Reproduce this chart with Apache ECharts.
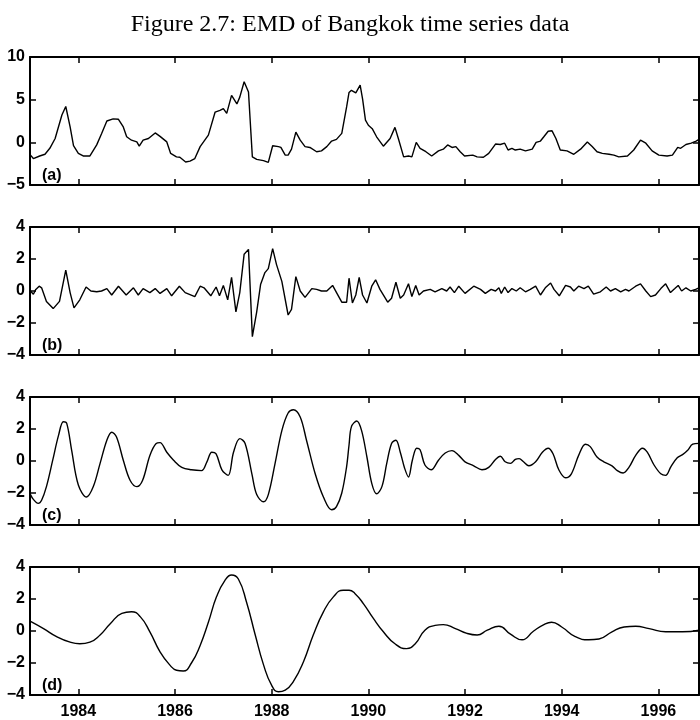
<!DOCTYPE html>
<html>
<head>
<meta charset="utf-8">
<script src="https://cdn.jsdelivr.net/npm/echarts@6/dist/echarts.min.js"></script>
<style>
html,body{margin:0;padding:0;background:#fff;}
#chart{width:700px;height:720px;}
</style>
</head>
<body>
<div id="chart"></div>
<script>
// ---- Data: [year, value] ----
const titleText = "Figure 2.7: EMD of Bangkok time series data";
const panelLabels = ["(a)", "(b)", "(c)", "(d)"];
const xTickYears = [1984, 1986, 1988, 1990, 1992, 1994, 1996];
const xRange = [1983, 1996.84];
const yRangeA = [-5, 10, 5];
const yRangeBCD = [-4, 4, 2];

const seriesA = [[1983.01,-1.5],[1983.07,-1.9],[1983.2,-1.6],[1983.31,-1.4],[1983.41,-0.7],[1983.52,0.45],[1983.66,3.2],[1983.74,4.2],[1983.83,1.8],[1983.9,-0.4],[1984.0,-1.3],[1984.1,-1.6],[1984.24,-1.6],[1984.38,-0.3],[1984.48,1.0],[1984.59,2.5],[1984.72,2.75],[1984.83,2.7],[1984.93,1.8],[1985.0,0.65],[1985.1,0.25],[1985.21,0.05],[1985.26,-0.45],[1985.34,0.25],[1985.45,0.45],[1985.59,1.1],[1985.69,0.7],[1985.83,0.05],[1985.91,-1.3],[1986.03,-1.7],[1986.1,-1.75],[1986.22,-2.3],[1986.31,-2.2],[1986.41,-1.9],[1986.52,-0.5],[1986.59,0.05],[1986.69,0.85],[1986.83,3.55],[1986.93,3.75],[1987.0,3.95],[1987.07,3.4],[1987.17,5.5],[1987.28,4.5],[1987.34,5.3],[1987.43,7.1],[1987.52,5.9],[1987.6,-1.7],[1987.69,-2.0],[1987.83,-2.15],[1987.93,-2.35],[1988.02,-0.4],[1988.14,-0.5],[1988.19,-0.6],[1988.28,-1.5],[1988.34,-1.5],[1988.41,-0.8],[1988.5,1.2],[1988.59,0.25],[1988.69,-0.5],[1988.79,-0.6],[1988.93,-1.1],[1989.03,-1.0],[1989.14,-0.5],[1989.24,0.15],[1989.34,0.35],[1989.45,1.05],[1989.55,4.15],[1989.6,5.85],[1989.65,6.1],[1989.74,5.8],[1989.83,6.7],[1989.88,5.1],[1989.94,2.6],[1990.0,2.0],[1990.08,1.6],[1990.17,0.65],[1990.31,-0.45],[1990.45,0.45],[1990.55,1.75],[1990.62,0.45],[1990.73,-1.7],[1990.83,-1.6],[1990.9,-1.7],[1990.99,0.0],[1991.07,-0.7],[1991.19,-1.1],[1991.31,-1.6],[1991.45,-1.0],[1991.55,-0.8],[1991.64,-0.3],[1991.73,-0.6],[1991.81,-0.5],[1991.9,-1.1],[1991.99,-1.6],[1992.16,-1.5],[1992.25,-1.7],[1992.38,-1.75],[1992.49,-1.3],[1992.63,-0.2],[1992.73,-0.25],[1992.82,-0.1],[1992.89,-0.9],[1992.97,-0.7],[1993.04,-0.9],[1993.14,-0.8],[1993.25,-1.0],[1993.39,-0.8],[1993.47,0.0],[1993.56,0.15],[1993.63,0.65],[1993.72,1.3],[1993.8,1.35],[1993.88,0.45],[1993.97,-0.9],[1994.11,-1.0],[1994.25,-1.4],[1994.39,-0.8],[1994.53,0.05],[1994.63,-0.5],[1994.73,-1.1],[1994.84,-1.3],[1994.98,-1.4],[1995.08,-1.5],[1995.18,-1.7],[1995.36,-1.6],[1995.49,-0.9],[1995.63,0.25],[1995.74,-0.1],[1995.87,-1.0],[1996.01,-1.5],[1996.18,-1.6],[1996.29,-1.5],[1996.4,-0.6],[1996.46,-0.7],[1996.57,-0.25],[1996.68,-0.1],[1996.78,0.15],[1996.84,0.35]];

const seriesB = [[1983.01,0],[1983.07,-0.2],[1983.12,0.1],[1983.19,0.3],[1983.24,0.2],[1983.34,-0.65],[1983.48,-1.1],[1983.61,-0.65],[1983.74,1.3],[1983.83,-0.1],[1983.91,-1.05],[1984.03,-0.55],[1984.16,0.25],[1984.26,0],[1984.38,-0.05],[1984.48,0],[1984.59,0.15],[1984.69,-0.25],[1984.83,0.3],[1984.99,-0.25],[1985.14,0.2],[1985.24,-0.25],[1985.34,0.15],[1985.48,-0.1],[1985.59,0.15],[1985.69,-0.15],[1985.83,0.15],[1985.93,-0.3],[1986.09,0.3],[1986.21,-0.1],[1986.41,-0.35],[1986.52,0.3],[1986.6,0.2],[1986.74,-0.3],[1986.85,0.25],[1986.92,-0.3],[1987.0,0.35],[1987.09,-0.55],[1987.17,0.85],[1987.26,-1.3],[1987.34,-0.1],[1987.43,2.3],[1987.52,2.6],[1987.6,-2.85],[1987.69,-1.3],[1987.77,0.4],[1987.86,1.15],[1987.93,1.4],[1988.02,2.65],[1988.1,1.65],[1988.21,0.6],[1988.34,-1.5],[1988.41,-1.15],[1988.5,0.9],[1988.59,0],[1988.69,-0.4],[1988.83,0.15],[1988.93,0.1],[1989.03,0],[1989.14,0],[1989.26,0.35],[1989.35,-0.15],[1989.45,-0.7],[1989.55,-0.7],[1989.6,0.8],[1989.67,-0.75],[1989.74,-0.25],[1989.81,0.85],[1989.88,-0.25],[1989.97,-0.75],[1990.07,0.3],[1990.15,0.7],[1990.24,0.1],[1990.4,-0.7],[1990.48,-0.45],[1990.57,0.55],[1990.66,-0.45],[1990.73,-0.25],[1990.83,0.45],[1990.9,-0.35],[1990.98,0.35],[1991.05,-0.25],[1991.14,0],[1991.28,0.1],[1991.38,-0.05],[1991.52,0.15],[1991.62,0],[1991.69,0.25],[1991.78,-0.1],[1991.87,0.3],[1992.0,-0.15],[1992.18,0.3],[1992.32,0.1],[1992.42,-0.15],[1992.54,0.1],[1992.63,0],[1992.7,0.2],[1992.75,-0.15],[1992.82,0.25],[1992.89,-0.1],[1992.97,0.15],[1993.06,0],[1993.14,0.2],[1993.25,-0.05],[1993.35,0.1],[1993.46,0.3],[1993.56,-0.25],[1993.66,0.2],[1993.77,0.5],[1993.84,0.1],[1993.95,-0.3],[1994.08,0.35],[1994.18,0.25],[1994.25,0],[1994.35,0.3],[1994.46,0.15],[1994.55,0.3],[1994.66,-0.2],[1994.8,-0.05],[1994.92,0.25],[1995.01,0],[1995.11,0.15],[1995.22,-0.05],[1995.32,0.1],[1995.39,0],[1995.53,0.3],[1995.63,0.45],[1995.74,0],[1995.84,-0.35],[1995.94,-0.25],[1996.05,0.15],[1996.15,0.45],[1996.25,-0.1],[1996.34,0.15],[1996.41,0.35],[1996.48,0],[1996.57,0.2],[1996.67,0],[1996.77,0.1],[1996.84,0.2]];

const seriesC = [[1983.01,-2.1],[1983.07,-2.4],[1983.17,-2.65],[1983.24,-2.45],[1983.34,-1.6],[1983.47,0.05],[1983.59,1.6],[1983.69,2.45],[1983.76,2.35],[1983.86,0.7],[1984.0,-1.5],[1984.17,-2.25],[1984.31,-1.6],[1984.45,-0.15],[1984.59,1.3],[1984.69,1.8],[1984.79,1.5],[1984.93,0.05],[1985.07,-1.2],[1985.21,-1.6],[1985.33,-1.2],[1985.48,0.35],[1985.61,1.1],[1985.69,1.15],[1985.83,0.55],[1985.97,0.05],[1986.14,-0.4],[1986.34,-0.55],[1986.55,-0.6],[1986.66,-0.05],[1986.76,0.55],[1986.85,0.45],[1986.97,-0.55],[1987.1,-0.9],[1987.21,0.55],[1987.34,1.4],[1987.45,1.1],[1987.59,-0.8],[1987.69,-2.1],[1987.83,-2.55],[1987.93,-2.1],[1988.07,-0.15],[1988.21,1.9],[1988.34,3.0],[1988.45,3.2],[1988.59,2.75],[1988.72,1.3],[1988.9,-0.8],[1989.07,-2.25],[1989.24,-3.05],[1989.34,-2.85],[1989.45,-2.0],[1989.55,-0.35],[1989.6,1.0],[1989.65,2.15],[1989.76,2.5],[1989.86,1.9],[1989.97,0.25],[1990.07,-1.4],[1990.17,-2.05],[1990.28,-1.6],[1990.38,-0.15],[1990.48,1.1],[1990.57,1.3],[1990.66,0.55],[1990.75,-0.45],[1990.83,-1.0],[1990.91,0.05],[1991.0,0.8],[1991.07,0.7],[1991.17,-0.25],[1991.3,-0.55],[1991.45,0.05],[1991.59,0.5],[1991.73,0.65],[1991.87,0.35],[1992.0,-0.05],[1992.18,-0.3],[1992.35,-0.55],[1992.49,-0.4],[1992.63,0.1],[1992.73,0.3],[1992.83,-0.05],[1992.94,-0.15],[1993.04,0.1],[1993.12,0.15],[1993.21,-0.05],[1993.32,-0.3],[1993.46,-0.05],[1993.6,0.55],[1993.72,0.8],[1993.82,0.45],[1993.94,-0.55],[1994.08,-1.05],[1994.2,-0.8],[1994.35,0.35],[1994.49,1.05],[1994.59,0.9],[1994.73,0.25],[1994.87,-0.05],[1995.04,-0.3],[1995.15,-0.6],[1995.27,-0.75],[1995.39,-0.4],[1995.53,0.35],[1995.67,0.8],[1995.77,0.55],[1995.91,-0.25],[1996.05,-0.8],[1996.15,-0.9],[1996.26,-0.35],[1996.39,0.2],[1996.5,0.4],[1996.6,0.65],[1996.71,1.05],[1996.84,1.1]];

const seriesD = [[1983.01,0.6],[1983.28,0.15],[1983.55,-0.35],[1983.83,-0.7],[1984.03,-0.8],[1984.24,-0.7],[1984.45,-0.25],[1984.66,0.45],[1984.9,1.1],[1985.1,1.2],[1985.28,0.9],[1985.48,-0.05],[1985.69,-1.3],[1985.9,-2.15],[1986.03,-2.45],[1986.17,-2.5],[1986.34,-2.0],[1986.52,-0.9],[1986.69,0.55],[1986.86,2.15],[1987.03,3.15],[1987.17,3.5],[1987.31,3.25],[1987.48,1.8],[1987.66,-0.25],[1987.83,-2.1],[1988.0,-3.4],[1988.14,-3.8],[1988.28,-3.7],[1988.45,-3.15],[1988.66,-1.9],[1988.86,-0.25],[1989.07,1.2],[1989.28,2.15],[1989.48,2.55],[1989.6,2.55],[1989.72,2.35],[1989.9,1.7],[1990.1,0.8],[1990.31,-0.05],[1990.55,-0.8],[1990.79,-1.1],[1990.97,-0.8],[1991.17,0.05],[1991.38,0.35],[1991.55,0.4],[1991.8,0.15],[1992.04,-0.15],[1992.25,-0.25],[1992.46,0.05],[1992.7,0.3],[1992.94,-0.2],[1993.18,-0.55],[1993.42,0.0],[1993.66,0.45],[1993.79,0.55],[1994.0,0.25],[1994.28,-0.35],[1994.56,-0.55],[1994.77,-0.5],[1995.04,-0.05],[1995.29,0.25],[1995.53,0.3],[1995.81,0.15],[1996.15,-0.05],[1996.5,-0.05],[1996.84,0.05]];

// ---- Chart construction ----
const chart = echarts.init(document.getElementById('chart'), null, {renderer: 'canvas'});
const LABEL_FONT = '"Liberation Sans", Arial, sans-serif';
const panelTops = [57, 227, 397, 567];
const panelH = 128;
const allSeries = [seriesA, seriesB, seriesC, seriesD];
const yRanges = [yRangeA, yRangeBCD, yRangeBCD, yRangeBCD];
const smoothing = [false, false, 0.35, 0.5];

const grids = [], xAxes = [], yAxes = [], series = [], graphics = [];
const lineStyle = {color: '#000', width: 2};
const tickStyle = {color: '#000', width: 1.5};

panelTops.forEach((top, i) => {
  grids.push({left: 30, width: 669, top: top, height: panelH, show: false, containLabel: false});
  const isLast = i === panelTops.length - 1;
  xAxes.push({
    type: 'value', gridIndex: i, position: 'bottom', min: xRange[0], max: xRange[1],
    axisLine: {show: true, onZero: false, lineStyle: lineStyle},
    axisTick: {show: true, inside: true, length: 6, customValues: xTickYears, lineStyle: tickStyle},
    axisLabel: {show: isLast, customValues: xTickYears, formatter: v => String(v), margin: 9,
      color: '#000', fontFamily: LABEL_FONT, fontWeight: 'bold', fontSize: 16},
    splitLine: {show: false}
  });
  xAxes.push({
    type: 'value', gridIndex: i, position: 'top', min: xRange[0], max: xRange[1],
    axisLine: {show: true, onZero: false, lineStyle: lineStyle},
    axisTick: {show: true, inside: true, length: 6, customValues: xTickYears, lineStyle: tickStyle},
    axisLabel: {show: false},
    splitLine: {show: false}
  });
  const yr = yRanges[i];
  yAxes.push({
    type: 'value', gridIndex: i, position: 'left', min: yr[0], max: yr[1], interval: yr[2],
    axisLine: {show: true, onZero: false, lineStyle: lineStyle},
    axisTick: {show: true, inside: true, length: 6, lineStyle: tickStyle},
    axisLabel: {show: true, margin: 5, color: '#000', fontFamily: LABEL_FONT, fontWeight: 'bold', fontSize: 16,
      formatter: v => String(v).replace('-', '\u2212')},
    splitLine: {show: false}
  });
  yAxes.push({
    type: 'value', gridIndex: i, position: 'right', min: yr[0], max: yr[1], interval: yr[2],
    axisLine: {show: true, onZero: false, lineStyle: lineStyle},
    axisTick: {show: true, inside: true, length: 6, lineStyle: tickStyle},
    axisLabel: {show: false},
    splitLine: {show: false}
  });
  series.push({
    type: 'line', xAxisIndex: 2 * i, yAxisIndex: 2 * i, data: allSeries[i],
    smooth: smoothing[i], showSymbol: false, symbol: 'none', clip: true,
    lineStyle: {color: '#000', width: 1.4}, animation: false
  });
  graphics.push({
    type: 'text', x: 42, y: top + panelH - 17, z: 100,
    style: {text: panelLabels[i], fill: '#000', font: 'bold 16px ' + LABEL_FONT,
      textAlign: 'left', textVerticalAlign: 'top'}
  });
});

chart.setOption({
  animation: false,
  backgroundColor: '#fff',
  title: {
    text: titleText, left: 'center', top: 8,
    textStyle: {fontFamily: '"Liberation Serif", "Times New Roman", serif', fontWeight: 'normal', fontSize: 24, color: '#000'}
  },
  grid: grids,
  xAxis: xAxes,
  yAxis: yAxes,
  series: series,
  graphic: graphics
});
</script>
</body>
</html>
